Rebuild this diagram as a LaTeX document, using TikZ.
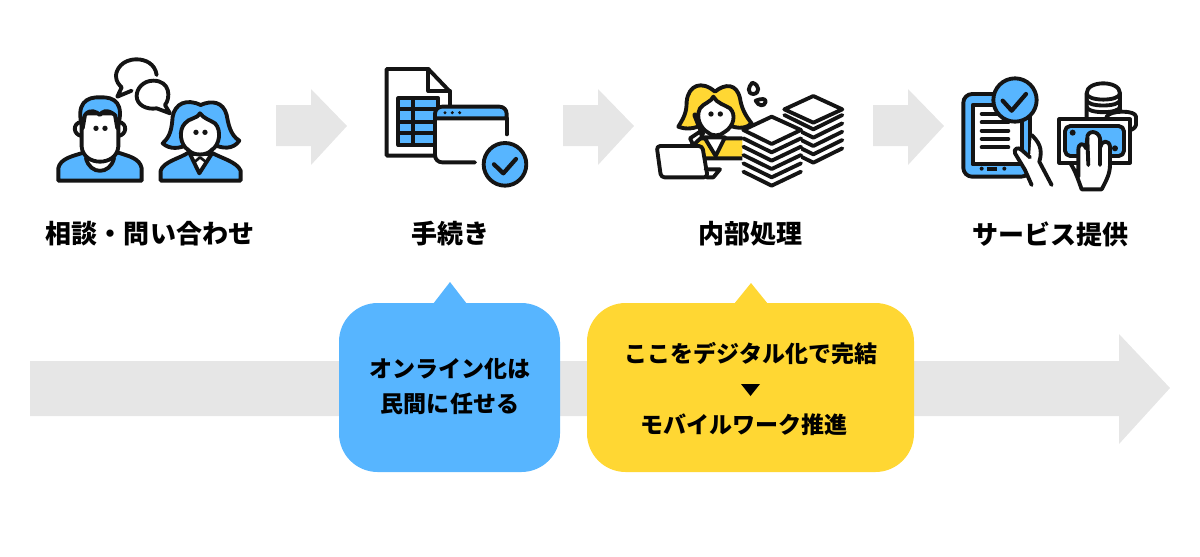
\documentclass[tikz,border=0pt]{standalone}
\usepackage{fontspec}
\newfontfamily\cjk{Noto Sans CJK JP}
\definecolor{bluefill}{HTML}{57B5FF}
\definecolor{yellowfill}{HTML}{FFD733}
\definecolor{arrowgray}{HTML}{E6E6E6}
\definecolor{inkblack}{HTML}{141414}
\tikzset{
	ink/.style={draw=inkblack,line width=2.2pt,line join=round,line cap=round},
	thinink/.style={draw=inkblack,line width=1.5pt,line join=round,line cap=round},
	steplabel/.style={font=\cjk\bfseries\fontsize{14.8}{16}\selectfont,text=black,inner sep=0pt},
	notelabel/.style={font=\cjk\bfseries\fontsize{13.1}{16}\selectfont,text=black,inner sep=0pt},
	flowarrow/.style={fill=arrowgray,draw=none},
}
\begin{document}
\begin{tikzpicture}[x=0.02cm,y=-0.02cm]
	\useasboundingbox (0,0) rectangle (1200,556);
	% long arrow
	\fill[flowarrow] (30,361) -- (1119,361) -- (1119,334) -- (1170,388) -- (1119,444) -- (1119,416) -- (30,416) -- cycle;
	% short arrows
	\foreach \px in {276,563,873}
		\fill[flowarrow,shift={(\px,0)}] (0,105) -- (35,105) -- (35,89) -- (71,126) -- (35,165) -- (35,146) -- (0,146) -- cycle;
	% callouts
	\fill[bluefill,rounded corners=22pt] (339,303) rectangle (560,472);
	\fill[bluefill] (433,304) -- (450,282) -- (467,304) -- cycle;
	\fill[yellowfill,rounded corners=22pt] (587,303) rectangle (914,472);
	\fill[yellowfill] (734,304) -- (751,283) -- (768,304) -- cycle;
	\fill[black] (741,384) -- (760,384) -- (750.5,396) -- cycle;
	% labels
	\node[steplabel] (soudan) at (150,234) {相談・問い合わせ};
	\node[steplabel] (tetsuduki) at (450,234) {手続き};
	\node[steplabel] (naibu) at (750,234) {内部処理};
	\node[steplabel] (service) at (1050,234) {サービス提供};
	\node[notelabel] (online) at (450,369) {オンライン化は};
	\node[notelabel] (minkan) at (450,404) {民間に任せる};
	\node[notelabel] (digital) at (751,354) {ここをデジタル化で完結};
	\node[notelabel] (mobile) at (744,425) {モバイルワーク推進};
	% icon 1
	\begin{scope}[shift={(40,50)},scale=0.3333]
		\draw[ink,fill=bluefill] (55,392) -- (55,355) .. controls (60,325) and (100,318) .. (130,308) -- (235,308) .. controls (265,318) and (300,325) .. (305,355) -- (305,392) -- cycle;
		\draw[ink,fill=white] (138,325) .. controls (150,375) and (210,375) .. (222,325) -- cycle;
		\draw[ink,fill=white] (125,215) .. controls (95,220) and (100,255) .. (125,258) (235,215) .. controls (265,220) and (260,255) .. (235,258);
		\draw[ink,fill=white] (125,190) -- (125,290) .. controls (130,350) and (230,350) .. (235,290) -- (235,190) -- cycle;
		\draw[ink,fill=bluefill] (128,235) .. controls (105,160) and (140,140) .. (180,142) .. controls (225,140) and (255,160) .. (232,235) -- (225,195) .. controls (200,175) and (185,185) .. (180,195) .. controls (170,185) and (150,175) .. (135,195) -- cycle;
		\fill[inkblack] (168,235) circle (8) (195,235) circle (8);
		\draw[ink,fill=bluefill] (362,392) -- (362,362) .. controls (370,335) and (420,325) .. (445,308) -- (515,308) .. controls (545,325) and (590,335) .. (602,362) -- (602,392) -- cycle;
		\draw[ink,fill=white] (450,312) -- (478,370) -- (515,312) -- cycle;
		\draw[thinink] (465,335) -- (480,322) -- (497,335);
		\draw[ink,fill=bluefill] (482,165) .. controls (440,145) and (405,160) .. (398,200) .. controls (395,240) and (390,260) .. (368,280) .. controls (390,300) and (420,295) .. (440,285) -- (525,285) .. controls (545,295) and (580,300) .. (598,272) .. controls (570,255) and (565,220) .. (560,195) .. controls (550,155) and (515,150) .. (482,165) -- cycle;
		\draw[ink,fill=white] (480,190) .. controls (475,205) and (445,205) .. (435,220) .. controls (415,240) and (420,285) .. (445,300) .. controls (460,318) and (500,318) .. (515,300) .. controls (540,285) and (545,240) .. (525,220) .. controls (510,210) and (490,205) .. (480,190) -- cycle;
		\fill[inkblack] (468,247) circle (8) (495,247) circle (8);
		\draw[ink] (350,75) .. controls (345,40) and (315,28) .. (290,28) .. controls (245,28) and (228,60) .. (228,78) .. controls (228,95) and (238,105) .. (245,112) -- (232,140) -- (275,122);
		\draw[ink] (340,92) .. controls (310,92) and (290,115) .. (290,138) .. controls (290,165) and (320,180) .. (350,175) -- (390,190) -- (375,165) .. controls (392,145) and (392,92) .. (340,92) -- cycle;
	\end{scope}
	% icon 2
	\begin{scope}[shift={(370,55)},scale=0.3333]
		\draw[ink,fill=white] (240,150) -- (240,110) -- (175,42) -- (50,42) -- (50,302) -- (195,302);
		\draw[ink] (175,42) -- (175,108) -- (240,108);
		\fill[bluefill] (85,130) rectangle (205,270);
		\draw[ink] (85,130) rectangle (205,270);
		\draw[ink] (85,163) -- (205,163) (85,200) -- (205,200) (85,235) -- (205,235) (128,130) -- (128,270);
		\fill[white] (195,190) rectangle (410,322);
		\draw[ink,fill=bluefill] (195,190) [rounded corners=4pt] -- (195,155) -- (410,155) [sharp corners] -- (410,190) -- cycle;
		\draw[ink] (410,190) -- (410,238);
		\draw[ink,rounded corners=4pt] (195,190) -- (195,322) -- (315,322);
		\fill[inkblack] (225,173) circle (5) (247,173) circle (5) (269,173) circle (5);
		\draw[ink,fill=bluefill] (405,328) circle (64);
		\draw[ink,line width=2.4pt] (372,328) -- (400,355) -- (438,312);
	\end{scope}
	% icon 3
	\begin{scope}[shift={(645,70)},scale=0.3333]
		\draw[ink,fill=yellowfill] (150,205) -- (300,205) -- (305,265) -- (120,265) -- cycle;
		\draw[ink,fill=yellowfill] (210,65) .. controls (170,30) and (130,45) .. (125,95) .. controls (125,130) and (115,145) .. (100,170) .. controls (125,180) and (150,175) .. (170,165) -- (250,165) .. controls (280,178) and (305,175) .. (320,160) .. controls (300,135) and (290,115) .. (285,85) .. controls (275,40) and (240,40) .. (210,65) -- cycle;
		\draw[ink,fill=white] (205,80) .. controls (200,95) and (175,100) .. (165,115) .. controls (150,145) and (170,175) .. (185,185) .. controls (200,200) and (225,200) .. (240,185) .. controls (265,170) and (275,135) .. (255,115) .. controls (240,105) and (215,100) .. (205,80) -- cycle;
		\fill[inkblack] (198,132) circle (8) (226,132) circle (8);
		\draw[ink,fill=white] (178,202) -- (212,258) -- (240,202) -- cycle;
		\draw[ink,line width=3pt] (150,135) -- (172,190);
		\draw[ink,fill=white] (135,205) -- (165,185) -- (172,200) -- (145,225) -- cycle;
		\draw[ink,fill=white,rounded corners=2pt] (35,228) -- (172,228) -- (188,322) -- (48,322) -- cycle;
		\draw[ink] (185,322) -- (205,322) -- (225,298) -- (182,298);
		\draw[ink] (322,38) .. controls (310,50) and (305,70) .. (325,72) .. controls (345,70) and (345,45) .. (322,38) -- cycle;
		\draw[ink] (332,92) .. controls (350,85) and (362,85) .. (362,95) .. controls (360,110) and (340,110) .. (332,92) -- cycle;
		% sheets, back pile
		\foreach \py in {135,160,185,210,235}
			\draw[ink] (418,\py) -- (505,\py+43) -- (592,\py);
		\draw[ink,fill=white] (505,78) -- (592,118) -- (505,158) -- (418,118) -- cycle;
		% sheets, front pile
		\fill[white] (292,180) -- (380,138) -- (468,180) -- (468,310) -- (380,352) -- (292,310) -- cycle;
		\foreach \py in {205,230,255,280,305}
			\draw[ink] (295,\py) -- (380,\py+42) -- (468,\py);
		\draw[ink,fill=white] (380,140) -- (468,180) -- (380,222) -- (295,180) -- cycle;
	\end{scope}
	% icon 4
	\begin{scope}[shift={(950,70)},scale=0.3333]
		\draw[ink,fill=bluefill,rounded corners=5pt] (40,72) -- (240,72) -- (240,320) -- (40,320) -- cycle;
		\draw[ink,fill=white] (68,105) rectangle (215,283);
		\draw[ink] (95,132) -- (145,132) (95,157) -- (175,157) (95,182) -- (175,182) (95,207) -- (175,207) (95,232) -- (175,232);
		\fill[inkblack] (110,290) rectangle (140,302);
		\fill[inkblack] (95,296) circle (6) (163,296) circle (6);
		\draw[ink,fill=bluefill] (195,90) circle (65);
		\draw[ink,line width=2.4pt] (158,92) -- (185,122) -- (228,72);
		% hand on the tablet, open at the wrist
		\fill[white] (245,195) .. controls (265,215) and (280,235) .. (268,275) -- (305,345) -- (245,345) -- (225,300) -- (195,250) .. controls (190,235) and (205,230) .. (215,240) -- (240,262) -- cycle;
		\draw[ink] (245,195) .. controls (265,215) and (280,235) .. (268,275) -- (305,345);
		\draw[ink] (245,345) -- (225,300) -- (195,250) .. controls (190,235) and (205,230) .. (215,240) -- (240,262);
		% coins
		\draw[ink,fill=white] (410,70) .. controls (410,30) and (510,30) .. (510,70) -- (510,150) -- (410,150) -- cycle;
		\draw[ink] (410,70) .. controls (410,95) and (510,95) .. (510,70) (410,90) .. controls (410,112) and (510,112) .. (510,90) (410,110) .. controls (410,132) and (510,132) .. (510,110);
		\draw[ink,fill=white] (470,140) .. controls (480,120) and (558,120) .. (558,140) -- (558,165) .. controls (555,175) and (545,180) .. (540,180) -- (470,180) -- cycle;
		% bill
		\draw[ink,fill=white] (328,148) rectangle (540,278);
		\draw[ink,fill=bluefill,rounded corners=3pt] (345,168) rectangle (522,258);
		\fill[inkblack] (368,188) circle (9) (495,235) circle (9);
		% hand
		\draw[ink,fill=white] (360,278) .. controls (375,300) and (385,330) .. (395,358) -- (455,358) .. controls (470,330) and (480,310) .. (480,285) -- (480,230) .. controls (478,210) and (455,210) .. (452,230) -- (450,205) .. controls (445,180) and (410,180) .. (412,205) -- (408,235) .. controls (400,215) and (385,220) .. (385,240) -- (385,320) -- cycle;
		\draw[ink] (412,205) -- (415,285) (450,205) -- (450,285);
	\end{scope}
\end{tikzpicture}
\end{document}
